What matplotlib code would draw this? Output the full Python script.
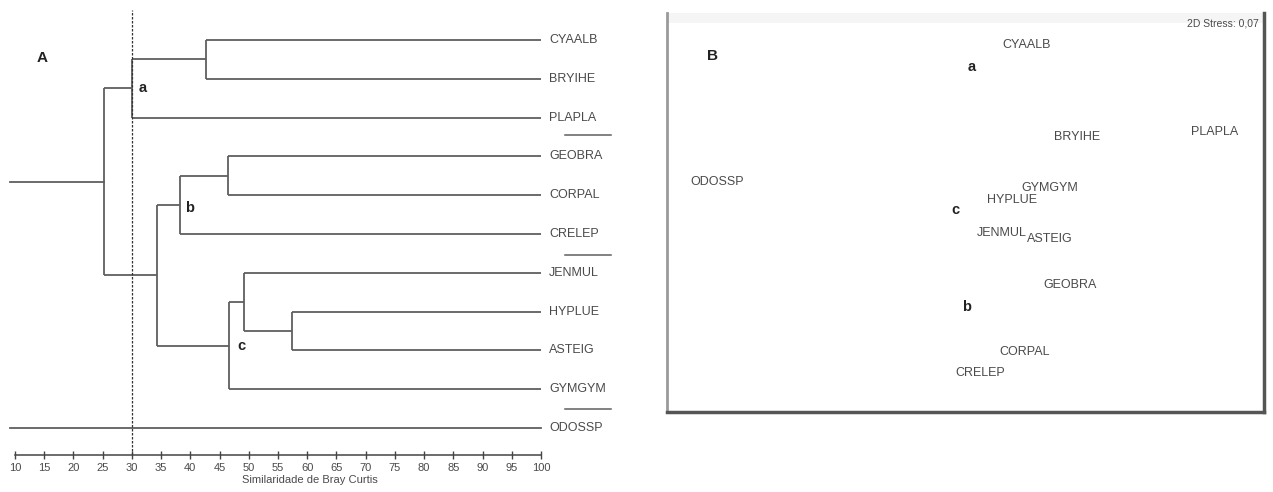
import matplotlib.pyplot as plt
import numpy as np
from matplotlib.patches import Rectangle

plt.rcParams['font.family'] = ['Liberation Sans', 'DejaVu Sans']

# ---- Panel A: dendrogram (Bray-Curtis similarity) ----
leaves = ['CYAALB', 'BRYIHE', 'PLAPLA', 'GEOBRA', 'CORPAL', 'CRELEP',
          'JENMUL', 'HYPLUE', 'ASTEIG', 'GYMGYM', 'ODOSSP']
# merges: (child1, child2, similarity); leaves are 0..10, new clusters 11, 12, ...
merge_a = [0, 11, 3, 13, 7, 6, 16, 14, 12]
merge_b = [1, 2, 4, 5, 8, 15, 9, 17, 18]
merge_sim = [42.7, 30.0, 46.4, 38.2, 57.4, 49.2, 46.6, 34.3, 25.2]
root_sim = 9.2          # last merge (with ODOSSP), drawn as open stubs
cut_level = 30
group_names = ['a', 'b', 'c']
group_sim = [31.9, 39.9, 48.8]
group_pos = [1.24, 4.33, 7.89]
separators = [2.45, 5.55, 9.5]

# ---- Panel B: NMDS ordination ----
nmds_x = [0.305, 0.555, 1.245, 0.52, 0.295, 0.07, 0.18, 0.23, 0.42, 0.42, -1.245]
nmds_y = [0.825, 0.365, 0.39, -0.375, -0.71, -0.815, -0.115, 0.05, -0.145, 0.11, 0.14]
nmds_group_x = [0.03, 0.005, -0.055]
nmds_group_y = [0.715, -0.485, 0.0]
stress = '0,07'

W, H = 1273, 492
fig = plt.figure(figsize=(W / 100, H / 100), dpi=100)
line_col = '#5f5f5f'
text_col = '#4a4a4a'

# ------------- dendrogram -------------
axA = fig.add_axes([0, 1 - 455 / H, 620 / W, 445 / H])
axA.set_xlim(10 - 15 / 5.844, 10 + 605 / 5.844)
axA.set_ylim(10.696, -0.773)

xpos = {i: 100.0 for i in range(len(leaves))}
ypos = {i: float(i) for i in range(len(leaves))}
for k, (a, b, s) in enumerate(zip(merge_a, merge_b, merge_sim)):
    node = len(leaves) + k
    for c in (a, b):
        axA.plot([xpos[c], s], [ypos[c], ypos[c]], color=line_col, lw=1.3,
                 solid_capstyle='butt')
    axA.plot([s, s], [ypos[a], ypos[b]], color=line_col, lw=1.3,
             solid_capstyle='butt')
    xpos[node] = s
    ypos[node] = (ypos[a] + ypos[b]) / 2

top = len(leaves) + len(merge_sim) - 1
odo = len(leaves) - 1
axA.plot([xpos[top], root_sim], [ypos[top], ypos[top]], color=line_col, lw=1.3)
axA.plot([xpos[odo], root_sim], [ypos[odo], ypos[odo]], color=line_col, lw=1.3)

for i, name in enumerate(leaves):
    axA.text(101.4, i, name, fontsize=9, color=text_col, va='center', ha='left')

for s in separators:
    axA.plot([104.1, 112.0], [s, s], color=line_col, lw=1.1)

for name, s, p in zip(group_names, group_sim, group_pos):
    axA.text(s, p, name, fontsize=10.5, fontweight='bold', color='#222',
             va='center', ha='center')
axA.text(14.6, 0.46, 'A', fontsize=11, fontweight='bold', color='#222',
         va='center', ha='center')

axA.axvline(cut_level, color='#333', lw=0.9, linestyle=(0, (2, 1.2)))

for side in ('top', 'right', 'left'):
    axA.spines[side].set_visible(False)
axA.spines['bottom'].set_bounds(10, 100)
axA.spines['bottom'].set_color('#444')
axA.spines['bottom'].set_linewidth(1.1)
axA.set_yticks([])
axA.set_xticks(np.arange(10, 101, 5))
axA.tick_params(axis='x', direction='inout', length=6, width=1, colors='#444',
                labelsize=8, pad=3, labelcolor=text_col)
axA.set_xlabel('Similaridade de Bray Curtis', fontsize=8, color=text_col,
               labelpad=1.5)
axA.patch.set_visible(False)

# ------------- NMDS panel -------------
axB = fig.add_axes([667 / W, 1 - 412 / H, 597 / W, 399 / H])
axB.set_xlim(-1.495, 1.49)
axB.set_ylim(-1.01, 0.985)
axB.add_patch(Rectangle((0, 0.975), 1, 0.025, transform=axB.transAxes,
                        color='#f5f5f5', lw=0, zorder=0))
for x, y, name in zip(nmds_x, nmds_y, leaves):
    axB.text(x, y, name, fontsize=9, color=text_col, ha='center', va='center')
for x, y, name in zip(nmds_group_x, nmds_group_y, group_names):
    axB.text(x, y, name, fontsize=10.5, fontweight='bold', color='#222',
             ha='center', va='center')
axB.text(-1.27, 0.77, 'B', fontsize=11, fontweight='bold', color='#222',
         ha='center', va='center')
axB.text(0.992, 0.985, '2D Stress: ' + stress, transform=axB.transAxes,
         fontsize=7.5, color=text_col, ha='right', va='top')
axB.set_xticks([])
axB.set_yticks([])
axB.spines['top'].set_visible(False)
axB.spines['left'].set_color('#9a9a9a')
axB.spines['left'].set_linewidth(2)
axB.spines['bottom'].set_color('#555')
axB.spines['bottom'].set_linewidth(2.5)
axB.spines['right'].set_color('#555')
axB.spines['right'].set_linewidth(2.5)

fig.savefig('out.png', dpi=100)
